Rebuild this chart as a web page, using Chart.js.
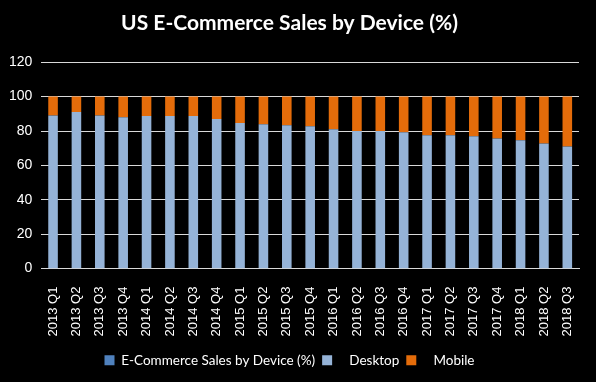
<!DOCTYPE html>
<html>
<head>
<meta charset="utf-8">
<script src="https://cdn.jsdelivr.net/npm/chart.js@4"></script>
<style>
  html, body { margin: 0; padding: 0; background: #000; }
  #wrap { width: 596px; height: 382px; position: relative; }
</style>
</head>
<body>
<div id="wrap"><canvas id="chart"></canvas></div>
<script>
const quarters = [
  "2013 Q1", "2013 Q2", "2013 Q3", "2013 Q4",
  "2014 Q1", "2014 Q2", "2014 Q3", "2014 Q4",
  "2015 Q1", "2015 Q2", "2015 Q3", "2015 Q4",
  "2016 Q1", "2016 Q2", "2016 Q3", "2016 Q4",
  "2017 Q1", "2017 Q2", "2017 Q3", "2017 Q4",
  "2018 Q1", "2018 Q2", "2018 Q3",
];
const desktop = [89, 91, 89, 88, 88.7, 88.7, 88.7, 87, 84.6, 84, 83.4, 82.8,
  81, 80, 80, 79.3, 77.5, 77.5, 77, 75.7, 74.6, 72.8, 71];
const mobile = [11, 9, 11, 12, 11.3, 11.3, 11.3, 13, 15.4, 16, 16.6, 17.2,
  19, 20, 20, 20.7, 22.5, 22.5, 23, 24.3, 25.4, 27.2, 29];
const yTicks = [0, 20, 40, 60, 80, 100, 120];

const font = "Lato, 'Open Sans', sans-serif";
const tickFont = "'Liberation Sans', Arial, sans-serif";
// the legend in the original leaves a wider gap before these two names
const legendGap = ["", "   ", "   "];

new Chart(document.getElementById("chart"), {
  type: "bar",
  data: {
    labels: quarters,
    datasets: [
      {
        label: "E-Commerce Sales by Device (%)",
        data: [],
        backgroundColor: "#4F81BD",
      },
      {
        label: "Desktop",
        data: desktop,
        backgroundColor: "#95B3D7",
      },
      {
        label: "Mobile",
        data: mobile,
        backgroundColor: "#E46C0A",
      },
    ],
  },
  options: {
    responsive: true,
    maintainAspectRatio: false,
    animation: false,
    datasets: {
      bar: { categoryPercentage: 1, barPercentage: 0.41 },
    },
    layout: { padding: { left: 0, right: 17, top: 0, bottom: 5 } },
    plugins: {
      title: {
        display: true,
        text: "US E-Commerce Sales by Device (%)",
        color: "#fff",
        font: { family: font, size: 21, weight: "bold" },
        padding: { top: 11, bottom: 26 },
      },
      legend: {
        position: "bottom",
        labels: {
          color: "#fff",
          boxWidth: 10,
          boxHeight: 10,
          padding: 7,
          font: { family: font, size: 13.5 },
          generateLabels: (chart) =>
            Chart.defaults.plugins.legend.labels
              .generateLabels(chart)
              .map((item, i) => ({ ...item, text: legendGap[i] + item.text })),
        },
      },
      tooltip: { enabled: false },
    },
    scales: {
      x: {
        stacked: true,
        grid: { display: false },
        border: { color: "#d9d9d9" },
        ticks: {
          color: "#fff",
          minRotation: 90,
          maxRotation: 90,
          autoSkip: false,
          padding: 10,
          font: { family: tickFont, size: 13 },
        },
      },
      y: {
        stacked: true,
        min: 0,
        max: 120,
        afterBuildTicks: (axis) => {
          axis.ticks = yTicks.map((v) => ({ value: v }));
        },
        grid: { color: "#d9d9d9", drawTicks: false },
        border: { display: false },
        ticks: {
          color: "#fff",
          padding: 9,
          font: { family: tickFont, size: 14 },
        },
      },
    },
  },
});
</script>
</body>
</html>
